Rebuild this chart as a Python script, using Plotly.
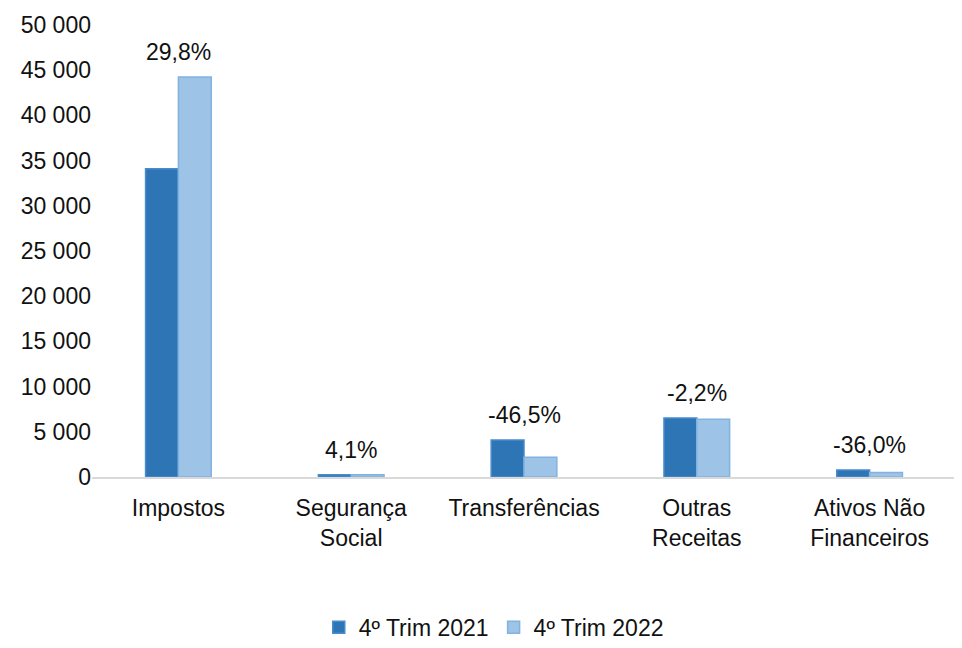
import plotly.graph_objects as go

categorias = ["Impostos", "Segurança<br>Social", "Transferências", "Outras<br>Receitas", "Ativos Não<br>Financeiros"]
trim_2021 = [34100, 250, 4100, 6530, 770]
trim_2022 = [44260, 260, 2195, 6390, 493]
variacao = ["29,8%", "4,1%", "-46,5%", "-2,2%", "-36,0%"]

FONT = "Liberation Sans, Arial, sans-serif"

fig = go.Figure()
fig.add_trace(go.Bar(x=categorias, y=trim_2021, name="4º Trim 2021",
                     marker=dict(color="#2E75B6", line=dict(color="#4A8BCB", width=1.5))))
fig.add_trace(go.Bar(x=categorias, y=trim_2022, name="4º Trim 2022",
                     marker=dict(color="#9DC3E6", line=dict(color="#82B2E0", width=1.5))))

# variation labels above each group
for cat, a, b, txt in zip(categorias, trim_2021, trim_2022, variacao):
    fig.add_annotation(x=cat, y=max(a, b), text=txt, showarrow=False,
                       yanchor="bottom", yshift=10, font=dict(size=23, color="#111111"))

fig.update_layout(
    width=954, height=640,  # page body adds an 8px margin
    margin=dict(l=84, r=6, t=17, b=171, autoexpand=False),
    plot_bgcolor="white", paper_bgcolor="white",
    font=dict(family=FONT, size=23, color="#111111"),
    barmode="group", bargap=0.62, bargroupgap=0,
    separators=", ",
    legend=dict(orientation="h", x=0.465, xanchor="center", y=-0.285, yanchor="top",
                font=dict(size=23), itemwidth=30, tracegroupgap=0),
)
fig.update_yaxes(range=[0, 50000], dtick=5000, tickformat=",d", showgrid=False,
                 zeroline=False, showline=False, ticks="", automargin=False)
fig.update_xaxes(showline=True, linecolor="#D9D9D9", linewidth=2, ticks="outside",
                 ticklen=9, tickcolor="rgba(0,0,0,0)", showgrid=False, automargin=False)

fig.write_html("out.html")
